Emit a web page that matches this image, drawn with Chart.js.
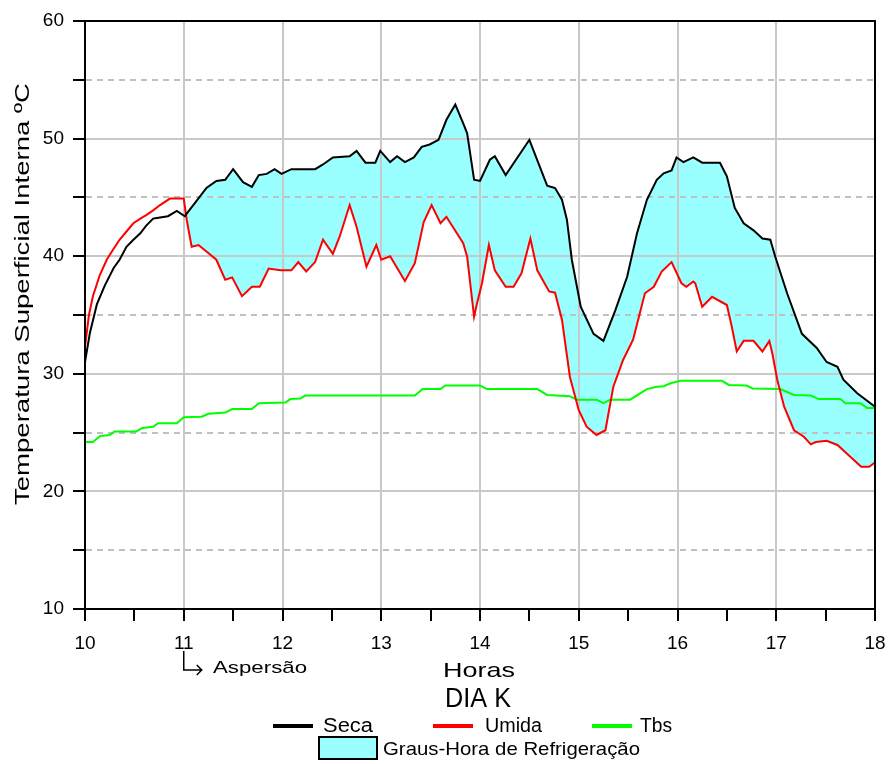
<!DOCTYPE html>
<html>
<head>
<meta charset="utf-8">
<script src="https://cdn.jsdelivr.net/npm/chart.js@4/dist/chart.umd.min.js"></script>
<style>
  html, body { margin: 0; padding: 0; background: #fff; }
  canvas { display: block; }
</style>
</head>
<body>
<canvas id="grafico" width="889" height="764"></canvas>
<script>
// valores (horas decimais, temperatura ºC)
const horasSeca = [10.0, 10.05, 10.12, 10.2, 10.29, 10.35, 10.42, 10.49, 10.56, 10.62, 10.69, 10.76, 10.84, 10.93, 11.01,
  11.11, 11.23, 11.33, 11.42, 11.5, 11.6, 11.69, 11.76, 11.84, 11.92, 11.99, 12.09, 12.18, 12.33, 12.41, 12.51, 12.68,
  12.75, 12.84, 12.94, 12.99, 13.09, 13.16, 13.24, 13.33, 13.41, 13.49, 13.58, 13.66, 13.75, 13.83, 13.87, 13.94, 14.0,
  14.1, 14.15, 14.26, 14.5, 14.68, 14.76, 14.83, 14.88, 14.93, 15.02, 15.15, 15.25, 15.37, 15.49, 15.59, 15.69, 15.79,
  15.86, 15.94, 15.99, 16.06, 16.16, 16.25, 16.43, 16.5, 16.58, 16.67, 16.77, 16.86, 16.94, 16.99, 17.11, 17.26, 17.41,
  17.51, 17.62, 17.68, 17.82, 18.0]
const seca = [31.0, 33.5, 35.9, 37.5, 39.0, 39.7, 40.8, 41.4, 41.95, 42.6, 43.2, 43.3, 43.4, 43.85, 43.4,
  44.5, 45.8, 46.4, 46.5, 47.4, 46.3, 45.9, 46.9, 47.0, 47.4, 47.0, 47.4, 47.4, 47.4, 47.8, 48.4, 48.5,
  48.95, 47.95, 47.95, 48.95, 48.0, 48.5, 48.0, 48.4, 49.3, 49.5, 49.9, 51.6, 52.9, 51.3, 50.45, 46.5, 46.4,
  48.2, 48.5, 46.9, 49.9, 46.0, 45.8, 44.8, 43.1, 39.7, 35.7, 33.4, 32.8, 35.4, 38.25, 41.95, 44.8, 46.5,
  47.05, 47.3, 48.4, 48.0, 48.4, 47.95, 47.95, 46.8, 44.1, 42.8, 42.2, 41.5, 41.4, 39.95, 36.85, 33.4, 32.2,
  31.0, 30.6, 29.5, 28.35, 27.2]

const horasUmida = [10.0, 10.04, 10.08, 10.15, 10.22, 10.28, 10.35, 10.42, 10.49, 10.56, 10.62, 10.69, 10.76, 10.86, 11.0,
  11.03, 11.08, 11.15, 11.23, 11.33, 11.42, 11.49, 11.59, 11.69, 11.77, 11.86, 11.98, 12.09, 12.16, 12.24, 12.33, 12.41,
  12.51, 12.58, 12.68, 12.75, 12.85, 12.95, 13.0, 13.09, 13.24, 13.34, 13.43, 13.51, 13.6, 13.66, 13.83, 13.87, 13.94,
  13.97, 14.02, 14.09, 14.15, 14.26, 14.34, 14.42, 14.51, 14.58, 14.7, 14.76, 14.83, 14.91, 15.0, 15.08, 15.18, 15.27,
  15.35, 15.45, 15.55, 15.67, 15.76, 15.84, 15.94, 16.04, 16.09, 16.16, 16.18, 16.25, 16.35, 16.5, 16.55, 16.6, 16.67,
  16.77, 16.86, 16.93, 16.96, 17.01, 17.08, 17.18, 17.28, 17.35, 17.4, 17.51, 17.62, 17.75, 17.86, 17.94, 18.0]
const umida = [32.3, 35.0, 36.6, 38.4, 39.7, 40.5, 41.4, 42.1, 42.8, 43.2, 43.5, 43.9, 44.35, 44.9, 44.9,
  43.1, 40.8, 40.95, 40.4, 39.7, 38.0, 38.2, 36.6, 37.4, 37.4, 38.95, 38.8, 38.8, 39.5, 38.7, 39.5, 41.4,
  40.2, 41.7, 44.35, 42.5, 39.1, 40.95, 39.7, 40.0, 37.9, 39.4, 42.9, 44.35, 42.8, 43.35, 41.1, 39.95, 34.85,
  36.0, 37.7, 40.95, 38.8, 37.4, 37.4, 38.55, 41.5, 38.8, 37.0, 36.9, 34.6, 29.75, 26.9, 25.5, 24.8, 25.2,
  28.9, 31.2, 32.9, 36.85, 37.4, 38.7, 39.5, 37.7, 37.4, 37.85, 37.7, 35.7, 36.55, 35.85, 34.0, 31.9, 32.8,
  32.8, 31.9, 32.8, 31.75, 29.5, 27.2, 25.2, 24.65, 24.0, 24.2, 24.3, 23.95, 22.95, 22.1, 22.1, 22.45]

const horasTbs = [10.0, 10.08, 10.15, 10.25, 10.3, 10.52, 10.58, 10.69, 10.74, 10.93, 11.0, 11.18, 11.25, 11.42, 11.49,
  11.69, 11.76, 12.03, 12.08, 12.18, 12.23, 13.34, 13.42, 13.6, 13.65, 14.0, 14.07, 14.58, 14.68, 14.91, 14.98, 15.18,
  15.25, 15.32, 15.52, 15.69, 15.79, 15.86, 15.93, 16.03, 16.45, 16.52, 16.7, 16.76, 17.04, 17.18, 17.35, 17.43, 17.65,
  17.7, 17.85, 17.92, 18.0]
const tbs = [24.2, 24.2, 24.7, 24.8, 25.1, 25.1, 25.4, 25.5, 25.8, 25.8, 26.3, 26.35, 26.6, 26.7, 27.0,
  27.0, 27.5, 27.55, 27.85, 27.9, 28.15, 28.15, 28.7, 28.7, 29.0, 29.0, 28.7, 28.7, 28.2, 28.1, 27.8, 27.8,
  27.5, 27.8, 27.8, 28.7, 28.9, 28.95, 29.2, 29.4, 29.4, 29.05, 29.0, 28.75, 28.7, 28.2, 28.15, 27.85, 27.85,
  27.5, 27.5, 27.1, 27.1]

const nomesSeries = ["Seca", "Umida", "Tbs"]
const legendaArea = "Graus-Hora de Refrigeração"
const ticksX = [10, 11, 12, 13, 14, 15, 16, 17, 18]
const ticksY = [10, 20, 30, 40, 50, 60]

const fonte = '"Liberation Sans", Arial, sans-serif'
const corArea = "#99ffff"
const corGrade = "#c8c8c8"

function pontos(xs, ys) {
  return xs.map((x, i) => ({ x: x, y: ys[i] }))
}

// escreve texto esticado na horizontal até a largura pedida
function textoAjustado(ctx, texto, x, y, largura, tamanho) {
  ctx.save()
  ctx.font = tamanho + "px " + fonte
  const w = ctx.measureText(texto).width
  ctx.translate(x, y)
  ctx.scale(largura / w, 1)
  ctx.textAlign = "left"
  ctx.textBaseline = "alphabetic"
  ctx.fillStyle = "#000"
  ctx.fillText(texto, 0, 0)
  ctx.restore()
}

const extras = {
  id: "extras",
  afterDraw(chart) {
    const ctx = chart.ctx
    const a = chart.chartArea
    const ds = chart.data.datasets

    // moldura
    ctx.save()
    ctx.strokeStyle = "#000"
    ctx.lineWidth = 2
    ctx.strokeRect(a.left, a.top, a.right - a.left, a.bottom - a.top)
    ctx.restore()

    // título do eixo y
    ctx.save()
    ctx.translate(29, 505)
    ctx.rotate(-Math.PI / 2)
    textoAjustado(ctx, "Temperatura Superficial Interna ºC", 0, 0, 422, 20)
    ctx.restore()

    textoAjustado(ctx, "Horas", 443, 677, 72, 21)
    textoAjustado(ctx, "DIA K", 445, 707, 66, 27)

    // seta da aspersão
    const x11 = chart.scales.x.getPixelForValue(11)
    ctx.save()
    ctx.strokeStyle = "#000"
    ctx.lineWidth = 1.5
    ctx.beginPath()
    ctx.moveTo(x11, 651)
    ctx.lineTo(x11, 670)
    ctx.lineTo(x11 + 18, 670)
    ctx.moveTo(x11 + 13, 665)
    ctx.lineTo(x11 + 18, 670)
    ctx.lineTo(x11 + 13, 675)
    ctx.stroke()
    ctx.restore()
    textoAjustado(ctx, "Aspersão", 213, 673, 94, 17)

    // legenda
    const amostras = [[273, 323, 50], [433, 485, 57], [592, 640, 32]]
    ctx.save()
    ctx.lineWidth = 4
    amostras.forEach((p, i) => {
      ctx.strokeStyle = ds[i].borderColor
      ctx.beginPath()
      ctx.moveTo(p[0], 726)
      ctx.lineTo(p[0] + 40, 726)
      ctx.stroke()
      textoAjustado(ctx, ds[i].label, p[1], 732, p[2], 20)
    })
    ctx.fillStyle = corArea
    ctx.fillRect(319, 737, 58, 22)
    ctx.lineWidth = 2
    ctx.strokeStyle = "#000"
    ctx.strokeRect(319, 737, 58, 22)
    ctx.restore()
    textoAjustado(ctx, legendaArea, 383, 755, 257, 19)
  }
}

new Chart(document.getElementById("grafico"), {
  type: "line",
  data: {
    datasets: [
      {
        label: nomesSeries[0],
        data: pontos(horasSeca, seca),
        borderColor: "#000000",
        borderWidth: 2,
        pointRadius: 0,
        fill: { target: 1, above: corArea, below: "rgba(0,0,0,0)" }
      },
      {
        label: nomesSeries[1],
        data: pontos(horasUmida, umida),
        borderColor: "#ff0000",
        borderWidth: 2,
        pointRadius: 0,
        fill: false
      },
      {
        label: nomesSeries[2],
        data: pontos(horasTbs, tbs),
        borderColor: "#00ff00",
        borderWidth: 2,
        pointRadius: 0,
        fill: false
      }
    ]
  },
  options: {
    responsive: false,
    animation: false,
    layout: { padding: { left: 0, top: 21, right: 14, bottom: 0 } },
    plugins: {
      legend: { display: false },
      tooltip: { enabled: false },
      filler: { propagate: false, drawTime: "beforeDraw" }
    },
    scales: {
      x: {
        type: "linear",
        min: ticksX[0],
        max: ticksX[ticksX.length - 1],
        afterFit: (s) => {
          s.height = 155
          s.paddingLeft = 0
          s.paddingRight = 0
        },
        ticks: {
          stepSize: 0.5,
          autoSkip: false,
          maxRotation: 0,
          padding: 11,
          color: "#000",
          font: { family: fonte, size: 19 },
          callback: (v) => ticksX.includes(v) ? String(v) : ""
        },
        grid: {
          color: (c) => c.tick && Number.isInteger(c.tick.value) ? corGrade : "rgba(0,0,0,0)",
          lineWidth: 2,
          tickColor: "#000",
          tickLength: 12,
          tickWidth: 2
        },
        border: { color: "#000", width: 2 }
      },
      y: {
        min: ticksY[0],
        max: ticksY[ticksY.length - 1],
        afterFit: (s) => { s.width = 85 },
        ticks: {
          stepSize: 5,
          padding: 9,
          color: "#000",
          font: { family: fonte, size: 19 },
          callback: (v) => ticksY.includes(v) ? String(v) : ""
        },
        grid: {
          color: (c) => c.tick && c.tick.value % 10 !== 0 ? "#c0c0c0" : corGrade,
          lineWidth: 2,
          tickColor: "#000",
          tickLength: 12,
          tickWidth: 2
        },
        border: {
          color: "#000",
          width: 2,
          dash: (c) => c.tick && c.tick.value % 10 !== 0 ? [6, 5] : []
        }
      }
    }
  },
  plugins: [extras]
})
</script>
</body>
</html>
